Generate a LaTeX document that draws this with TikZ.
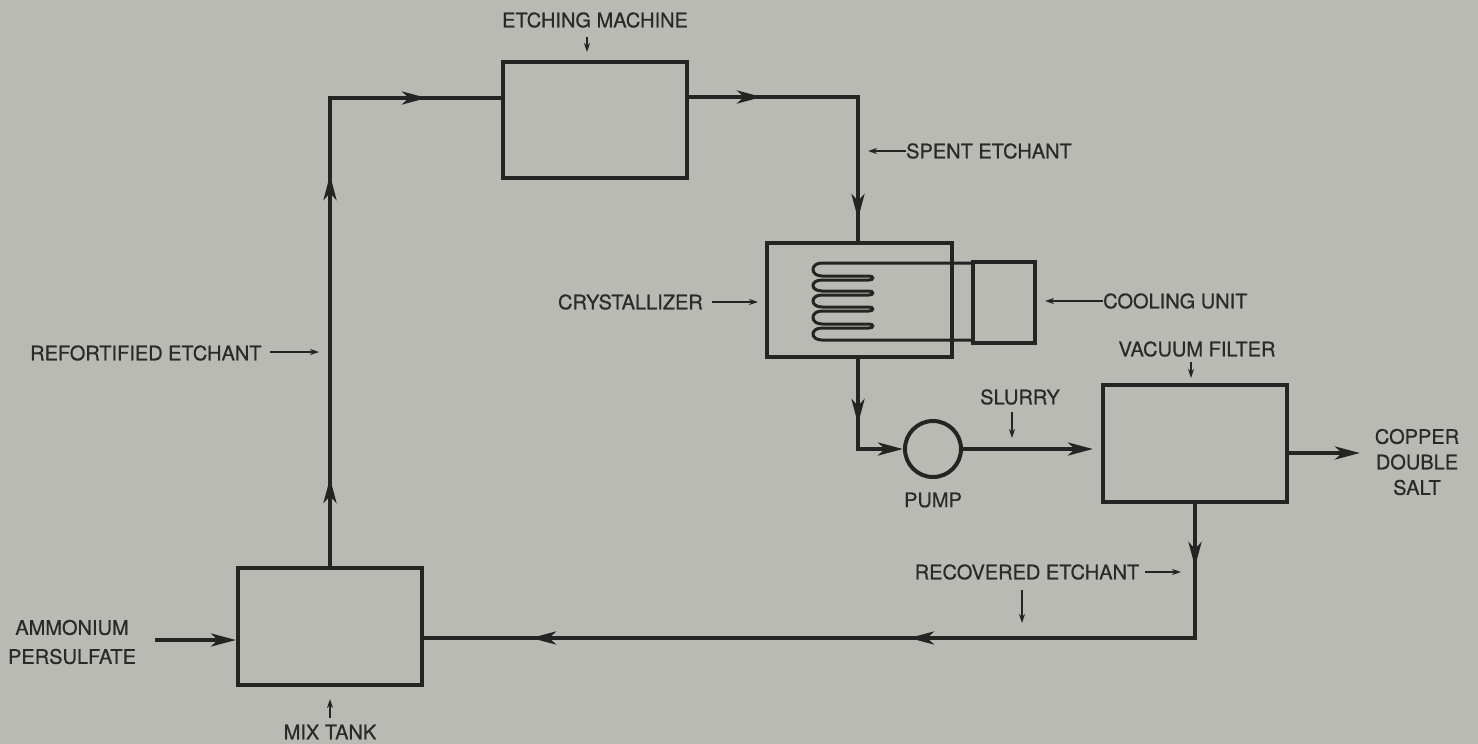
\documentclass[tikz,border=0pt]{standalone}
\usepackage{fontspec}
\setmainfont{TeX Gyre Heros}
\newfontfamily\lblfont[FakeBold=0.7]{TeX Gyre Heros}
\usetikzlibrary{arrows.meta,decorations.markings,calc}
\definecolor{paper}{RGB}{186,186,180}
\definecolor{ink}{RGB}{36,36,36}
\definecolor{textink}{RGB}{42,42,42}
\begin{document}
\begin{tikzpicture}[x=1pt,y=-1pt,
  unit/.style={draw=ink, line width=4pt, rectangle, inner sep=0pt},
  flow/.style={draw=ink, line width=4pt},
  flowhead/.style={-{Stealth[length=25pt,width=13pt,inset=7pt]}},
  fa/.style={postaction={decorate,decoration={markings,mark=at position #1 with {\arrow{Stealth[length=25pt,width=13pt,inset=7pt]}}}}},
  lbl/.style={text=textink, font=\lblfont\fontsize{20}{25.5}\selectfont, inner sep=0pt, align=center},
  note/.style={draw=ink, line width=1.8pt, -{Stealth[length=9pt,width=6pt]}},
  coil/.style={draw=ink, line width=3pt},
]
\fill[paper] (0,0) rectangle (1478,744);
\useasboundingbox (0,0) rectangle (1478,744);

% units
\node[unit, minimum width=184pt, minimum height=116pt] (etch) at (595,120) {};
\node[unit, minimum width=185pt, minimum height=114pt] (cryst) at (859.5,300) {};
\node[unit, minimum width=62pt, minimum height=81pt] (cool) at (1004,302.5) {};
\node[unit, minimum width=184pt, minimum height=117pt] (vac) at (1195,443.5) {};
\node[unit, minimum width=184pt, minimum height=117pt] (mix) at (330,626.5) {};
\node[draw=ink, line width=4pt, circle, minimum size=56pt, inner sep=0pt] (pump) at (933,449) {};

% coil
\draw[coil] (973,263) -- (822,263)
  .. controls (810,263) and (810,276) .. (822,276) -- (869,276)
  .. controls (874,276) and (874,280) .. (869,280) -- (822,280)
  .. controls (810,280) and (810,291) .. (822,291) -- (869,291)
  .. controls (874,291) and (874,295) .. (869,295) -- (822,295)
  .. controls (810,295) and (810,307) .. (822,307) -- (869,307)
  .. controls (874,307) and (874,311) .. (869,311) -- (822,311)
  .. controls (810,311) and (810,324) .. (822,324) -- (869,324)
  .. controls (874,324) and (874,328) .. (869,328) -- (822,328)
  .. controls (810,328) and (810,340) .. (822,340) -- (973,340);

% flows
\coordinate (tl) at (330,98);
\draw[flow, fa=88pt, fa=391pt, fa=565pt] (mix.north) -- (tl) -- (etch.west |- tl);
\coordinate (tr) at (858,97);
\draw[flow, fa=73pt, fa=291pt] (etch.east |- tr) -- (tr) -- (tr |- cryst.north);
\coordinate (cb) at (858,449);
\draw[flow, fa=65pt, flowhead] (cryst.south -| cb) -- (cb) -- (pump.west);
\draw[flow, flowhead, shorten >=8pt] (pump.east) -- (vac.west |- pump.east);
\coordinate (cs) at (1360,453);
\draw[flow, flowhead] (vac.east |- cs) -- (cs);
\coordinate (br) at (1195,638);
\draw[flow, fa=63pt, fa=420pt, fa=798pt] (vac.south) -- (br) -- (mix.east |- br);
\coordinate (ain) at (155,640);
\draw[flow, flowhead] (ain) -- (mix.west |- ain);

% labels
\node[lbl] (letch) at (595,20) {ETCHING MACHINE};
\coordinate (p1a) at (587,37); \coordinate (p1b) at (587,52);
\draw[note] (p1a) -- (p1b);

\node[lbl, anchor=west] (lspent) at (906,151) {SPENT ETCHANT};
\coordinate (p2) at (868,151);
\draw[note] (lspent.west) -- (p2);

\node[lbl, anchor=east] (lcry) at (703,302) {CRYSTALLIZER};
\coordinate (p3a) at (712,302); \coordinate (p3b) at (758,302);
\draw[note] (p3a) -- (p3b);

\node[lbl, anchor=west] (lcool) at (1103,301) {COOLING UNIT};
\coordinate (p4) at (1045,301);
\draw[note] (lcool.west) -- (p4);

\node[lbl, anchor=west] (lref) at (30,353) {REFORTIFIED ETCHANT};
\coordinate (p5a) at (270,352); \coordinate (p5b) at (319,352);
\draw[note] (p5a) -- (p5b);

\node[lbl] (lslurry) at (1020,397) {SLURRY};
\coordinate (p6a) at (1012,412); \coordinate (p6b) at (1012,438);
\draw[note] (p6a) -- (p6b);

\node[lbl] (lpump) at (933,500) {PUMP};

\node[lbl] (lvac) at (1197,349) {VACUUM FILTER};
\coordinate (p7a) at (1191,362); \coordinate (p7b) at (1191,378);
\draw[note] (p7a) -- (p7b);

\node[lbl] (lcopper) at (1417,462) {COPPER\\DOUBLE\\SALT};

\node[lbl] (lrec) at (1027,572) {RECOVERED ETCHANT};
\coordinate (p8a) at (1145,572); \coordinate (p8b) at (1181,572);
\draw[note] (p8a) -- (p8b);
\coordinate (p9a) at (1022,590); \coordinate (p9b) at (1022,623);
\draw[note] (p9a) -- (p9b);

\node[lbl] (lmix) at (330,732) {MIX TANK};
\coordinate (p10a) at (330,718); \coordinate (p10b) at (330,699);
\draw[note] (p10a) -- (p10b);

\node[lbl, font=\lblfont\fontsize{20}{29}\selectfont] (lamm) at (72,642) {AMMONIUM\\PERSULFATE};
\end{tikzpicture}
\end{document}
